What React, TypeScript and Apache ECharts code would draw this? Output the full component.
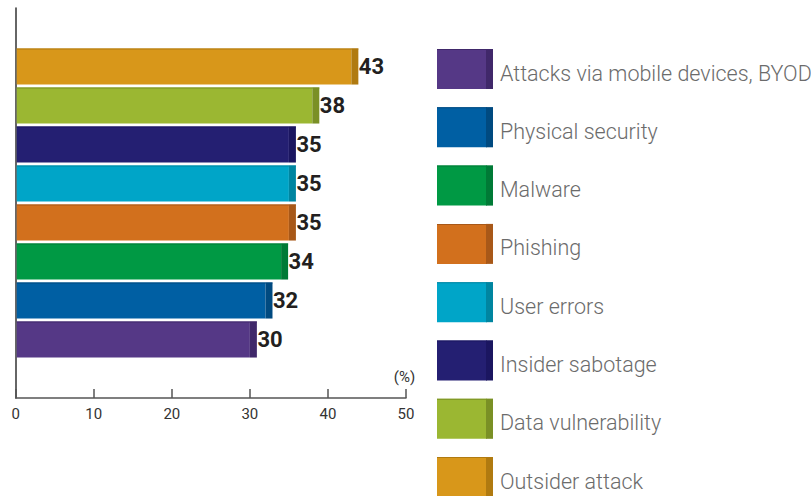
import React, { useEffect, useRef } from "react";
import * as echarts from "echarts";

const categories = [
  "Outsider attack",
  "Data vulnerability",
  "Insider sabotage",
  "User errors",
  "Phishing",
  "Malware",
  "Physical security",
  "Attacks via mobile devices, BYOD",
];
const values = [43, 38, 35, 35, 35, 34, 32, 30];
const colors = ["#D8971A", "#9BB732", "#241F72", "#00A5C8", "#D2701D", "#009944", "#005FA3", "#553886"];
const capColors = ["#B07A10", "#7A9025", "#1B1660", "#0085A0", "#A85818", "#007A36", "#004A80", "#40286A"];
const xMin = 0;
const xMax = 50;
const xInterval = 10;
const unitLabel = "(%)";

export default function App() {
  const ref = useRef<HTMLDivElement>(null);
  useEffect(() => {
    document.body.style.margin = "0";
    const chart = echarts.init(ref.current!, null, { renderer: "svg" });
    const legendOrder = categories.map((_, i) => i).reverse();
    const legendGraphics: any[] = [];
    legendOrder.forEach((ci, j) => {
      const y = 49 + j * 58.3;
      legendGraphics.push({ type: "rect", shape: { x: 437, y, width: 50, height: 40 }, style: { fill: colors[ci] } });
      legendGraphics.push({ type: "rect", shape: { x: 486, y, width: 7, height: 40 }, style: { fill: capColors[ci] } });
      legendGraphics.push({ type: "rect", shape: { x: 437, y, width: 56, height: 1 }, style: { fill: capColors[ci] } });
      legendGraphics.push({
        type: "text",
        x: 500,
        y: y + 24,
        style: {
          text: categories[ci],
          fill: "#6b6b6b",
          fontSize: 21.5,
          fontWeight: 300,
          fontFamily: "Roboto",
          verticalAlign: "middle",
          align: "left",
        },
      });
    });
    legendGraphics.push({
      type: "text",
      x: 404.5,
      y: 377,
      style: { text: unitLabel, fill: "#333", fontSize: 15, fontFamily: "Roboto", align: "center", verticalAlign: "middle" },
    });

    chart.setOption({
      animation: false,
      grid: { left: 15.7, right: 405, top: 8, bottom: 98 },
      xAxis: {
        type: "value",
        position: "bottom",
        min: xMin,
        max: xMax,
        interval: xInterval,
        axisLine: { show: true, onZero: false, lineStyle: { color: "#555", width: 1.5 } },
        axisTick: { show: true, inside: true, length: 9, lineStyle: { color: "#555", width: 1.5 } },
        axisLabel: { color: "#333", fontSize: 15, fontFamily: "Roboto", margin: 8 },
        splitLine: { show: false },
      },
      yAxis: {
        type: "value",
        min: 0,
        max: 10,
        inverse: true,
        axisLine: { show: true, onZero: false, lineStyle: { color: "#333", width: 1.5 } },
        axisTick: { show: false },
        axisLabel: { show: false },
        splitLine: { show: false },
      },
      series: [
        {
          type: "custom",
          data: values.map((v, i) => [v, i + 1.5]),
          renderItem: (params: any, api: any) => {
            const i = params.dataIndex;
            const v = api.value(0);
            const yv = api.value(1);
            const start = api.coord([0, yv]);
            const end = api.coord([v, yv]);
            const h = api.size([0, 0.925])[1];
            const x0 = start[0] + 1;
            const top = end[1] - h / 2;
            return {
              type: "group",
              children: [
                { type: "rect", shape: { x: x0, y: top, width: end[0] - x0, height: h }, style: { fill: colors[i] } },
                { type: "rect", shape: { x: end[0], y: top, width: 7, height: h }, style: { fill: capColors[i] } },
                { type: "rect", shape: { x: x0, y: top, width: end[0] + 7 - x0, height: 1 }, style: { fill: capColors[i] } },
                {
                  type: "text",
                  x: end[0] + 7.5,
                  y: end[1] - 0.5,
                  style: {
                    text: String(v),
                    fill: "#231f20",
                    fontSize: 22,
                    fontWeight: "bold",
                    fontFamily: "Roboto",
                    align: "left",
                    verticalAlign: "middle",
                  },
                },
              ],
            };
          },
        },
      ],
      graphic: legendGraphics,
    });
    return () => chart.dispose();
  }, []);
  return <div ref={ref} style={{ width: 811, height: 496 }} />;
}
